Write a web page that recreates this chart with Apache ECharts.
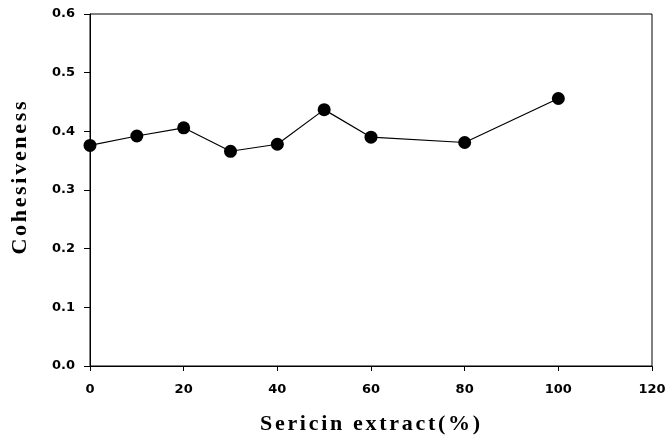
<!DOCTYPE html>
<html>
<head>
<meta charset="utf-8">
<script src="https://cdn.jsdelivr.net/npm/echarts@6/dist/echarts.min.js"></script>
<style>
  html, body { margin: 0; padding: 0; background: #fff; }
  #chart { width: 669px; height: 445px; }
</style>
</head>
<body>
<div id="chart"></div>
<script>
// Sericin extract level (%) and measured cohesiveness
const sericinLevels = [0, 10, 20, 30, 40, 50, 60, 80, 100];
const cohesiveness = [0.376, 0.392, 0.406, 0.366, 0.378, 0.437, 0.390, 0.381, 0.456];

const xTicks = [0, 20, 40, 60, 80, 100, 120];
const yTicks = [0.0, 0.1, 0.2, 0.3, 0.4, 0.5, 0.6];

const xTitle = 'Sericin extract(%)';
const yTitle = 'Cohesiveness';

const chart = echarts.init(document.getElementById('chart'));

const tickFont = {
  fontFamily: 'DejaVu Sans, sans-serif',
  fontWeight: 'bold',
  fontSize: 13,
  color: '#000'
};

// Spaced-out serif title: each glyph becomes a rich-text token with side padding
function spaced(text) {
  return text.split('').map(ch => '{c|' + ch + '}').join('');
}
const titleRich = {
  c: {
    fontFamily: 'Liberation Serif, Times New Roman, serif',
    fontWeight: 'bold',
    fontSize: 22,
    color: '#000',
    padding: [0, 1.35, 0, 1.35]
  }
};

chart.setOption({
  animation: false,
  backgroundColor: '#fff',
  grid: {
    left: 90, right: 17, top: 14, bottom: 79,
    outerBoundsMode: 'none',
    containLabel: false,
    show: true, borderColor: '#000', borderWidth: 1
  },
  graphic: [
    {
      type: 'text',
      x: 370, y: 424,
      style: {
        text: spaced(xTitle),
        rich: titleRich,
        align: 'center',
        verticalAlign: 'middle'
      }
    },
    {
      type: 'text',
      x: 20, y: 178,
      rotation: Math.PI / 2,
      style: {
        text: spaced(yTitle),
        rich: titleRich,
        align: 'center',
        verticalAlign: 'middle'
      }
    }
  ],
  xAxis: {
    type: 'value',
    min: xTicks[0], max: xTicks[xTicks.length - 1], interval: 20,
    axisLine: { lineStyle: { color: '#000', width: 1 } },
    axisTick: { show: true, inside: false, length: 5, lineStyle: { color: '#000' } },
    axisLabel: Object.assign({ margin: 17 }, tickFont),
    splitLine: { show: false }
  },
  yAxis: {
    type: 'value',
    min: yTicks[0], max: yTicks[yTicks.length - 1], interval: 0.1,
    axisLine: { show: true, lineStyle: { color: '#000', width: 1 } },
    axisTick: { show: true, inside: false, length: 6, lineStyle: { color: '#000' } },
    axisLabel: Object.assign({
      margin: 15,
      formatter: v => v.toFixed(1)
    }, tickFont),
    splitLine: { show: false }
  },
  series: [{
    type: 'line',
    data: sericinLevels.map((x, i) => [x, cohesiveness[i]]),
    symbol: 'circle',
    symbolSize: 13,
    itemStyle: { color: '#000' },
    lineStyle: { color: '#000', width: 1.2 }
  }]
});
</script>
</body>
</html>
